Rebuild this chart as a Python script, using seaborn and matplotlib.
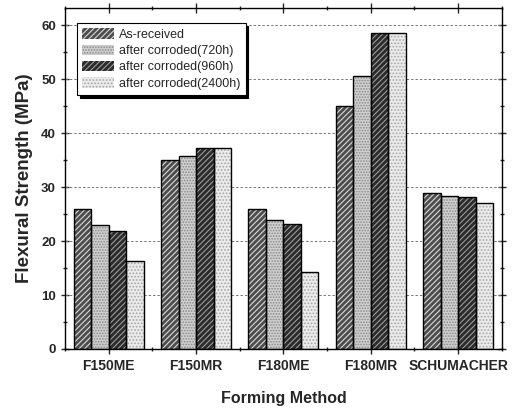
import matplotlib
matplotlib.use("Agg")
import matplotlib.pyplot as plt
import seaborn as sns
import pandas as pd
from matplotlib.patches import Rectangle, Patch
from matplotlib.ticker import MultipleLocator

methods = ["F150ME", "F150MR", "F180ME", "F180MR", "SCHUMACHER"]
series = ["As-received", "after corroded(720h)", "after corroded(960h)", "after corroded(2400h)"]
as_received = [26.0, 35.1, 25.9, 45.0, 28.9]
h720 = [22.9, 35.8, 23.9, 50.6, 28.3]
h960 = [21.8, 37.2, 23.1, 58.6, 28.1]
h2400 = [16.3, 37.3, 14.2, 58.5, 27.0]

rows = []
for s, vals in zip(series, [as_received, h720, h960, h2400]):
    for m, v in zip(methods, vals):
        rows.append({"method": m, "series": s, "value": v})
df = pd.DataFrame(rows)

sns.set_theme(style="ticks")
plt.rcParams["font.family"] = ["Liberation Sans", "DejaVu Sans"]
plt.rcParams["hatch.linewidth"] = 0.8

fig = plt.figure(figsize=(5.12, 4.13), dpi=100)
ax = fig.add_axes([0.127, 0.155, 0.853, 0.826])

faces = ["#4d4d4d", "#cfcfcf", "#2b2b2b", "#ebebeb"]
hatchc = ["#d8d8d8", "#8a8a8a", "#9a9a9a", "#a8a8a8"]
hatches = ["//////", "......", "//////", "....."]

sns.barplot(data=df, x="method", y="value", hue="series", order=methods,
            hue_order=series, palette=faces, width=0.8, ax=ax, zorder=2,
            legend=False)

for i, cont in enumerate(ax.containers):
    for p in cont.patches:
        p.set_facecolor(faces[i])
        p.set_hatch(hatches[i])
        p.set_edgecolor(hatchc[i])
        p.set_linewidth(0)
        ax.add_patch(Rectangle(p.get_xy(), p.get_width(), p.get_height(),
                               fill=False, edgecolor="black", linewidth=1.0, zorder=3))

ax.set_ylim(0, 63.2)
ax.set_xlim(-0.5, 4.5)
ax.yaxis.set_major_locator(MultipleLocator(10))
ax.yaxis.set_minor_locator(MultipleLocator(5))
ax.xaxis.set_minor_locator(MultipleLocator(0.5))
for y in range(10, 61, 10):
    ax.axhline(y, color="#777777", linestyle=(0, (2.5, 2)), linewidth=0.7, zorder=1)

ax.tick_params(axis="both", which="both", top=True, right=True)
ax.tick_params(axis="y", which="major", direction="inout", length=6, width=1)
ax.tick_params(axis="y", which="minor", direction="inout", length=3, width=1)
ax.tick_params(axis="x", which="major", direction="inout", length=7, width=1)
ax.tick_params(axis="x", which="minor", direction="inout", length=3, width=1)
for t in ax.get_xticklabels():
    t.set_fontweight("bold"); t.set_fontsize(10)
for t in ax.get_yticklabels():
    t.set_fontweight("bold"); t.set_fontsize(9.5)
for sp in ax.spines.values():
    sp.set_linewidth(1.0); sp.set_color("black")

ax.set_xlabel("Forming Method", fontsize=11.5, fontweight="bold", labelpad=13)
ax.set_ylabel("Flexural Strength (MPa)", fontsize=13.5, fontweight="bold", labelpad=6)

handles = [Patch(facecolor=faces[i], hatch=hatches[i], edgecolor=hatchc[i], linewidth=0)
           for i in range(4)]
leg = ax.legend(handles, series, loc="upper left", bbox_to_anchor=(0.027, 0.956),
                fontsize=9.0, frameon=True, fancybox=False, shadow={"color": "black", "alpha": 1},
                handlelength=2.5, handleheight=0.9, labelspacing=0.3, borderpad=0.45,
                handletextpad=0.4, borderaxespad=0)
leg.get_frame().set_edgecolor("black")
leg.get_frame().set_linewidth(0.8)
leg.set_zorder(5)

fig.savefig("out.png", dpi=100)
